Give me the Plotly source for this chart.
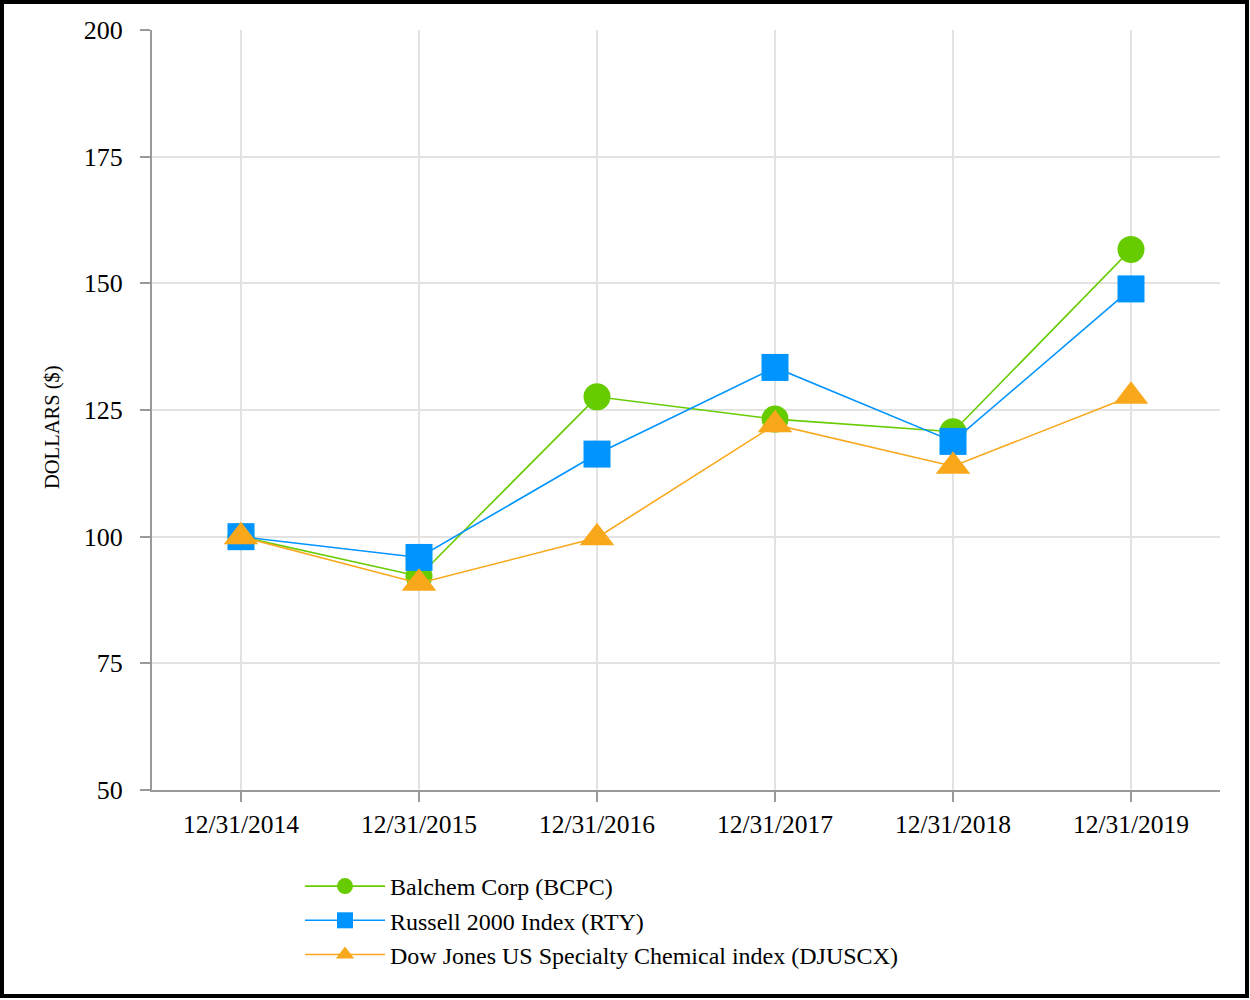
import plotly.graph_objects as go

dates = ["12/31/2014", "12/31/2015", "12/31/2016", "12/31/2017", "12/31/2018", "12/31/2019"]
bcpc = [100, 92.2, 127.6, 123.2, 120.7, 156.7]
rty = [100, 95.9, 116.3, 133.4, 118.8, 148.9]
djuscx = [100, 90.8, 99.8, 122.1, 113.9, 127.7]

names = ["Balchem Corp (BCPC)", "Russell 2000 Index (RTY)",
         "Dow Jones US Specialty Chemical index (DJUSCX)"]
colors = ["#66cc00", "#0094ff", "#f9a81c"]
symbols = ["circle", "square", "triangle-up"]
series = [bcpc, rty, djuscx]
y_title = "DOLLARS ($)"

FONT = "Liberation Serif, Times New Roman, serif"

fig = go.Figure()
for name, vals, c, s in zip(names, series, colors, symbols):
    fig.add_trace(go.Scatter(
        x=dates, y=vals, name=name, mode="lines+markers",
        line=dict(color=c, width=1.6),
        marker=dict(symbol=s, size=27 if s != "triangle-up" else 30, color=c),
    ))

L, R, T, B = 152, 30, 30, 210
W, H = 1250, 1000
pw, ph = W - L - R, H - T - B

def px_x(p):
    return (p - L) / pw

def px_y(p):
    return (H - B - p) / ph

fig.update_layout(
    width=W, height=H,
    margin=dict(l=L, r=R, t=T, b=B, autoexpand=False),
    paper_bgcolor="white", plot_bgcolor="white",
    font=dict(family=FONT, size=20, color="black"),
    showlegend=True,
    legend=dict(
        x=px_x(300), y=px_y(864), xanchor="left", yanchor="top",
        font=dict(family=FONT, size=24, color="black"),
        itemwidth=80, tracegroupgap=0, bgcolor="rgba(0,0,0,0)",
    ),
    xaxis=dict(
        type="category", range=[-0.5, 5.5],
        showgrid=True, gridcolor="#e3e3e3", gridwidth=1.5,
        showline=True, linecolor="#999999", linewidth=2,
        ticks="outside", ticklen=10, tickcolor="#999999", tickwidth=2,
        tickfont=dict(family=FONT, size=25.5, color="black"),
        zeroline=False,
    ),
    yaxis=dict(
        range=[50, 200], dtick=25, tick0=50,
        showgrid=True, gridcolor="#e3e3e3", gridwidth=1.5,
        showline=True, linecolor="#999999", linewidth=2,
        ticks="outside", ticklen=10, tickcolor="#999999", tickwidth=2,
        ticklabelstandoff=12,
        tickfont=dict(family=FONT, size=26, color="black"),
        zeroline=False,
    ),
    annotations=[dict(
        text=y_title, textangle=-90, showarrow=False,
        xref="paper", yref="paper", x=px_x(52), y=px_y(427),
        xanchor="center", yanchor="middle",
        font=dict(family=FONT, size=20.5, color="black"),
    )],
    shapes=[dict(
        type="rect", xref="paper", yref="paper", layer="above",
        x0=px_x(2), x1=px_x(1247), y0=px_y(996), y1=px_y(2),
        line=dict(color="black", width=4), fillcolor="rgba(0,0,0,0)",
    )],
)

fig.write_html("out.html", config={"displayModeBar": False},
               post_script="document.body.style.margin='0';")
